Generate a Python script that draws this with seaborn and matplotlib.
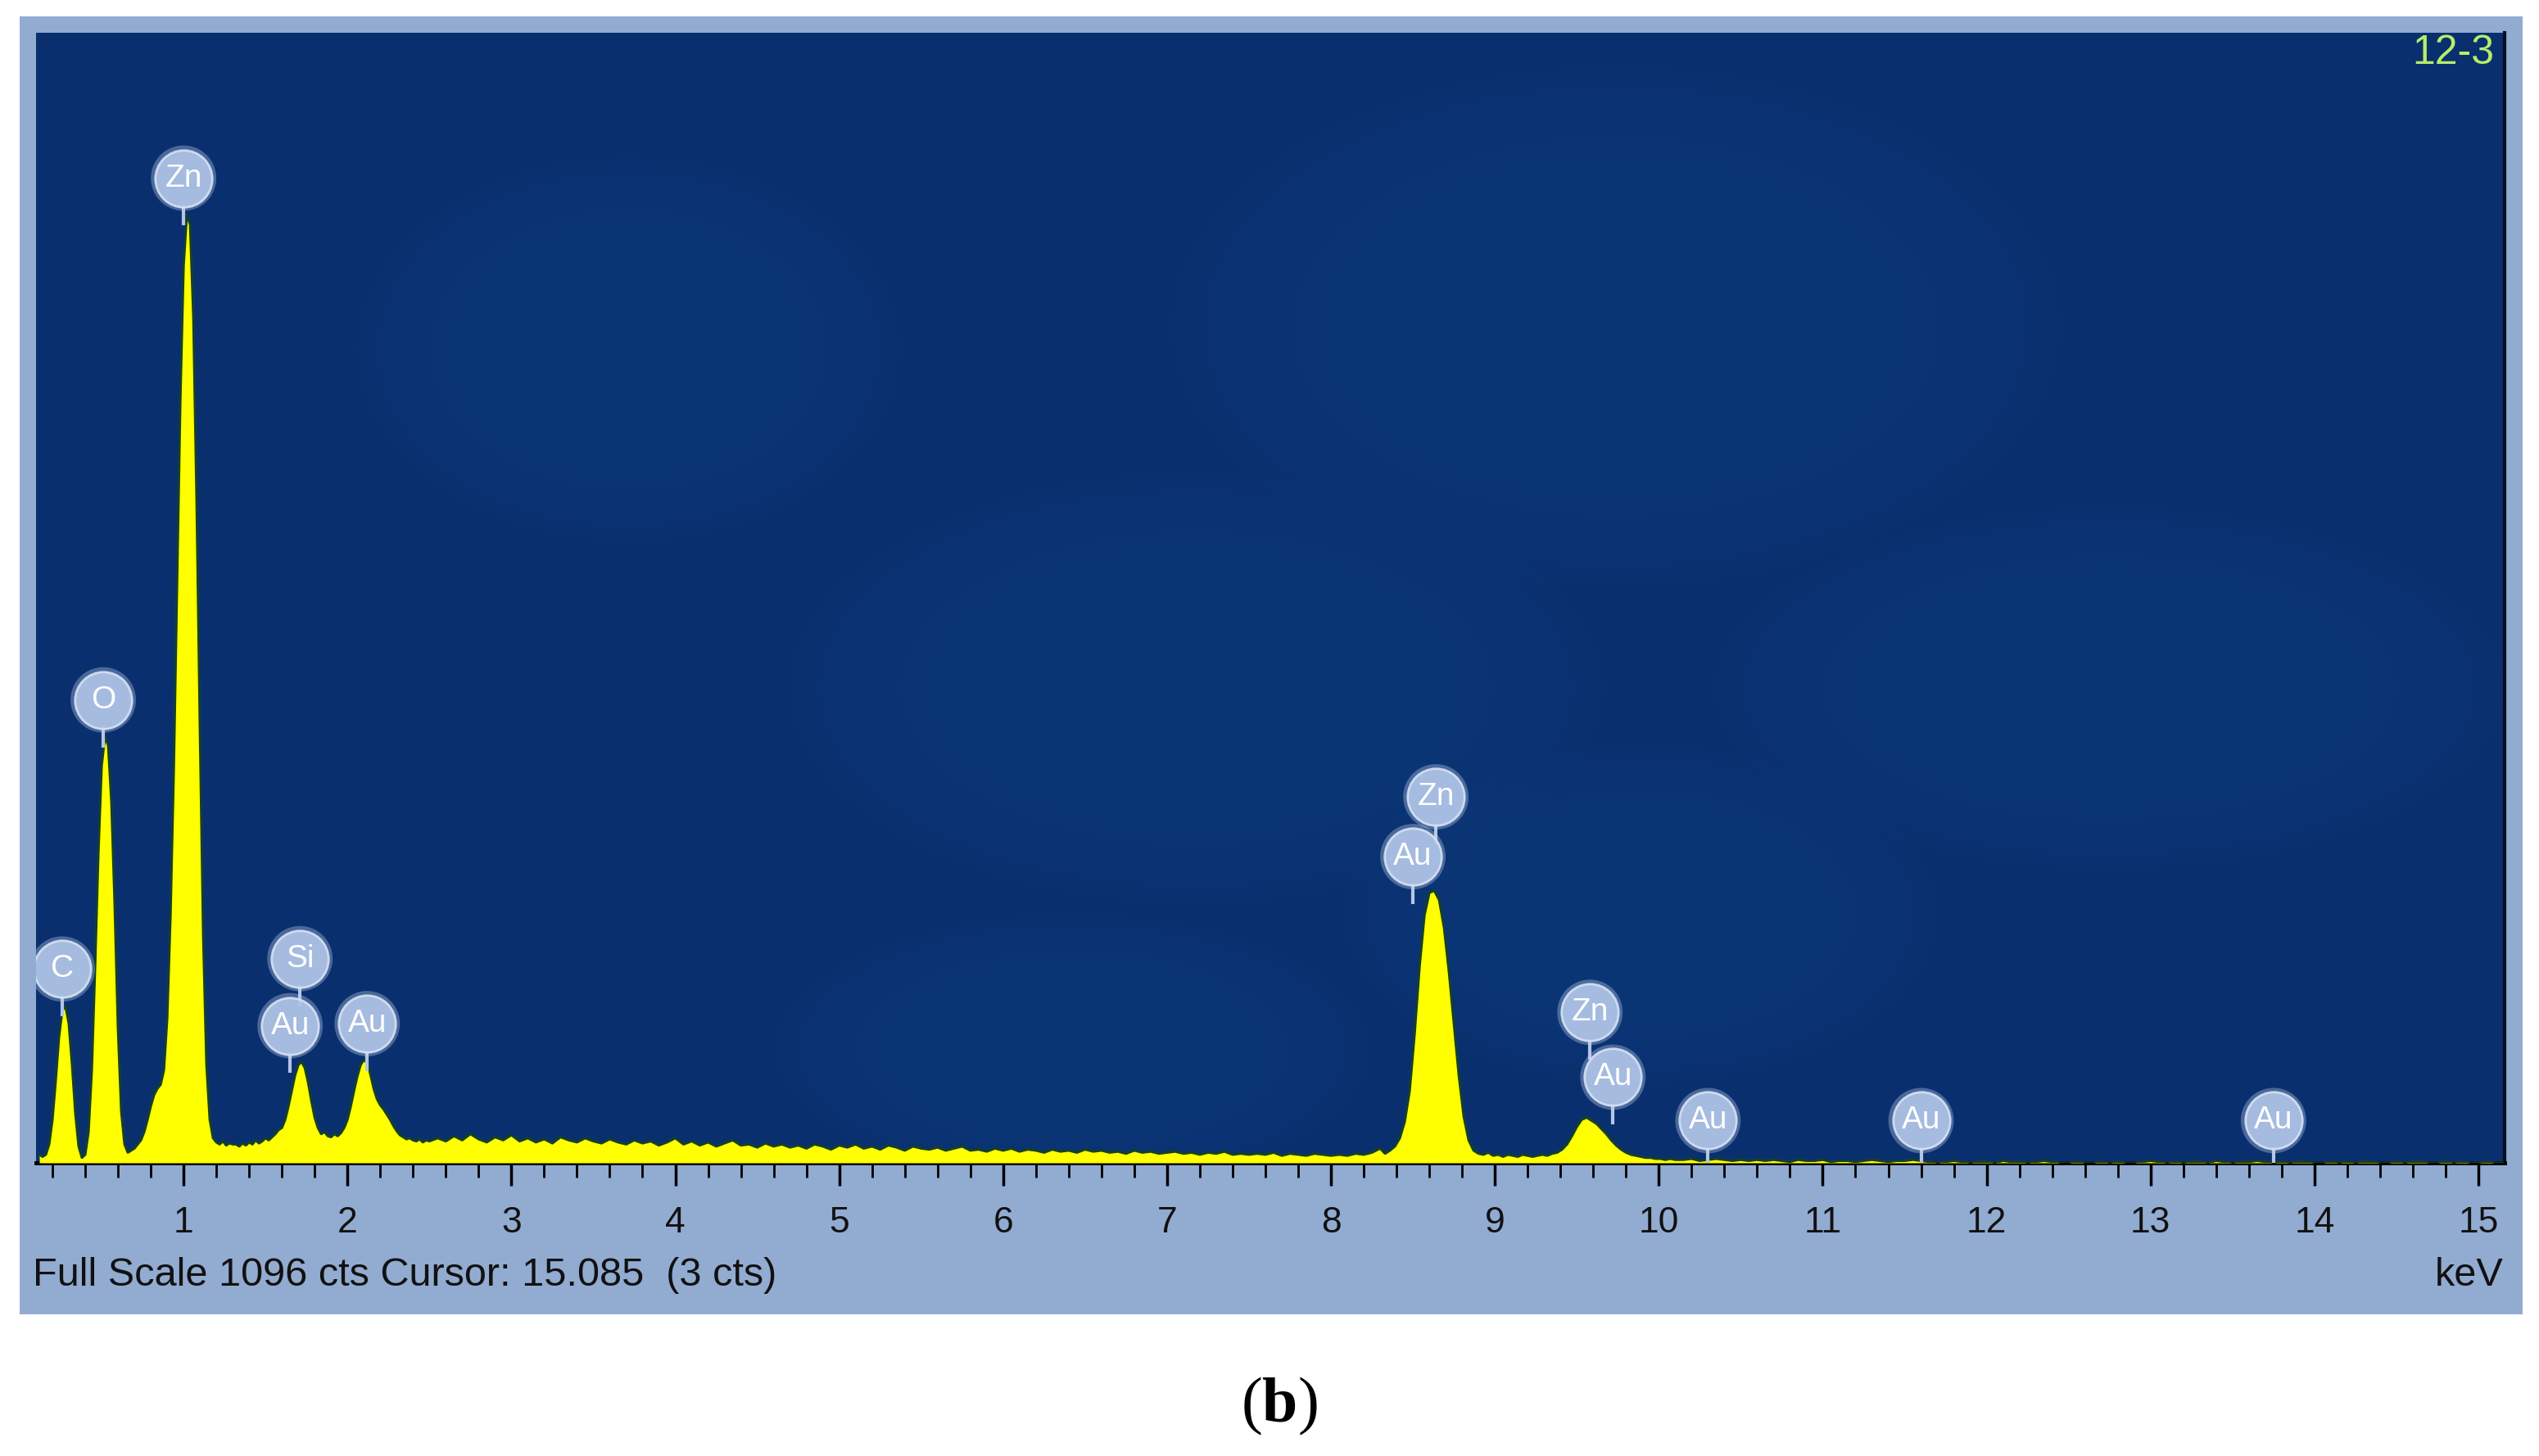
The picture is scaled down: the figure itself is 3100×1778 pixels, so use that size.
import numpy as np
import pandas as pd
import matplotlib
matplotlib.use('Agg')
import matplotlib.pyplot as plt
import seaborn as sns
from matplotlib.patches import Rectangle, Ellipse
from matplotlib.ticker import MultipleLocator

# Спектр ЭДС: отсчёты по участкам (шаг канала свой на каждом участке)
# участок A: 0.12 .. 1.30 кэВ, шаг 0.02 (C, O, Zn L)
counts_a = [8, 6, 8, 18, 42, 80, 122, 148, 152, 135,
            95, 48, 16, 5, 8, 30, 90, 190, 300, 385,
            413, 405, 350, 250, 130, 50, 18, 10, 12, 14,
            18, 22, 30, 42, 55, 66, 72, 76, 90, 140,
            240, 380, 560, 740, 870, 920, 910, 820, 640, 420,
            220, 95, 42, 24, 20, 18, 21, 17, 19, 18]
# участок B1: 1.32 .. 2.50 кэВ, шаг 0.02 (Si, Au M)
counts_b1 = [18, 16, 19, 17, 20, 18, 22, 19, 21, 24,
             22, 25, 28, 32, 34, 42, 55, 70, 85, 95,
             98, 92, 78, 60, 44, 34, 28, 30, 26, 25,
             28, 26, 29, 34, 42, 55, 70, 84, 95, 100,
             97, 86, 72, 62, 56, 52, 47, 42, 36, 31,
             27, 25, 23, 24, 22, 21, 23, 20, 22, 21]
# участок B2: 2.55 .. 8.30 кэВ, шаг 0.05 (фон)
counts_b2 = [24, 21, 26, 22, 28, 23, 20, 25, 22, 27,
             21, 24, 20, 23, 19, 25, 22, 20, 24, 21,
             19, 23, 20, 18, 22, 19, 21, 17, 20, 24,
             18, 21, 17, 20, 16, 19, 22, 17, 18, 15,
             19, 16, 18, 15, 17, 14, 18, 16, 13, 17,
             15, 18, 14, 16, 13, 17, 15, 12, 16, 14,
             13, 15, 12, 14, 16, 12, 13, 11, 14, 12,
             14, 11, 13, 12, 10, 13, 11, 12, 10, 13,
             11, 12, 10, 11, 9, 12, 10, 11, 9, 10,
             11, 9, 10, 8, 10, 9, 11, 8, 9, 8,
             9, 8, 10, 7, 9, 8, 7, 9, 8, 7,
             8, 7, 9, 8, 10, 14]
# участок C: 8.33 .. 10.10 кэВ, шаг 0.03 (Zn K)
counts_c = [9, 12, 16, 24, 40, 70, 125, 190, 240, 262,
            264, 255, 228, 185, 135, 85, 45, 22, 12, 9,
            8, 10, 7, 8, 6, 8, 7, 6, 8, 7,
            6, 7, 8, 7, 9, 10, 13, 18, 26, 35,
            42, 44, 41, 38, 33, 28, 22, 17, 13, 10,
            8, 7, 6, 5, 5, 4, 4, 3, 4, 3]
# участок D: 10.15 .. 15.15 кэВ, шаг 0.05 (хвост)
counts_d = [3, 4, 2, 3, 4, 3, 2, 3, 2, 3,
            2, 3, 2, 1, 3, 2, 2, 3, 1, 2,
            2, 1, 2, 3, 2, 1, 2, 2, 3, 2,
            1, 0, 1, 2, 1, 0, 1, 1, 0, 2,
            1, 1, 0, 1, 2, 1, 0, 0, 1, 0,
            0, 1, 0, 1, 0, 0, 1, 2, 1, 0,
            1, 0, 1, 1, 0, 2, 1, 0, 1, 1,
            2, 1, 0, 1, 0, 1, 1, 0, 0, 1,
            0, 1, 0, 1, 1, 0, 0, 1, 0, 1,
            1, 0, 0, 1, 0, 1, 0, 0, 1, 0,
            0]

segments = [(0.12, 1.30, 0.02, counts_a),
            (1.32, 2.50, 0.02, counts_b1),
            (2.55, 8.30, 0.05, counts_b2),
            (8.33, 10.10, 0.03, counts_c),
            (10.15, 15.15, 0.05, counts_d)]

# Метки линий элементов
line_names = ['C', 'O', 'Zn', 'Si', 'Au', 'Au', 'Zn', 'Au', 'Zn', 'Au', 'Au', 'Au', 'Au']
line_kev = [0.26, 0.51, 1.00, 1.71, 1.65, 2.12, 8.64, 8.50, 9.58, 9.72, 10.30, 11.60, 13.75]
label_cts = [188, 449, 955, 198, 133, 135, 355, 297, 146, 83, 41, 41, 41]

full_scale = 1096

# Сборка спектра
energy, counts = [], []
for start, stop, step, vals in segments:
    e = np.round(np.arange(start, stop + step / 2, step), 3)
    assert len(e) == len(vals), (start, len(e), len(vals))
    energy.extend(e)
    counts.extend(vals)
spec = pd.DataFrame({'keV': energy, 'cts': counts})
labels = pd.DataFrame({'name': line_names, 'keV': line_kev, 'cts': label_cts})

sns.set_theme(style='white')
plt.rcParams['font.family'] = ['Liberation Sans', 'DejaVu Sans']
plt.rcParams['mathtext.fontset'] = 'custom'
plt.rcParams['mathtext.rm'] = 'Liberation Serif'
plt.rcParams['mathtext.bf'] = 'Liberation Serif:bold'

W, H = 3100, 1778
fig = plt.figure(figsize=(W / 100, H / 100), dpi=100)
fig.patch.set_facecolor('white')

# светло-голубая рамка окна программы
fig.patches.append(Rectangle((24 / W, 1 - 1605 / H), (3080 - 24) / W, (1605 - 20) / H,
                             transform=fig.transFigure, facecolor='#92abd1',
                             edgecolor='none', zorder=-10))

ax = fig.add_axes([44 / W, 1 - 1420 / H, (3058 - 44) / W, (1420 - 40) / H])
ax.set_zorder(5)
ax.set_facecolor('#0a2f6f')

# слабые размытые пятна фона (изображение СЭМ под спектром)
for cx, cy, w, h in [(0.64, 0.74, 0.36, 0.46), (0.47, 0.42, 0.33, 0.38),
                     (0.84, 0.42, 0.32, 0.32), (0.24, 0.72, 0.22, 0.34),
                     (0.42, 0.10, 0.24, 0.24), (0.65, 0.22, 0.24, 0.30)]:
    for k in range(6):
        f = 1.0 - 0.07 * k
        ax.add_patch(Ellipse((cx, cy), w * f, h * f, transform=ax.transAxes,
                             facecolor='#3d68a8', edgecolor='none', alpha=0.02, zorder=1))

ax.fill_between(spec['keV'], 0, spec['cts'], color='#ffff00', lw=0, zorder=3)
sns.lineplot(data=spec, x='keV', y='cts', ax=ax, color='#15402a', lw=2.2,
             estimator=None, sort=False, zorder=4)

# подписи пиков
for _, r in labels.iterrows():
    ax.vlines(r['keV'], r['cts'] - 46, r['cts'] - 26, color='#b4c6e6', lw=3, zorder=5)
sns.scatterplot(data=labels, x='keV', y='cts', ax=ax, s=3300, color='#c3d3ee',
                alpha=0.35, edgecolor='none', legend=False, zorder=5)
sns.scatterplot(data=labels, x='keV', y='cts', ax=ax, s=2500, color='#aec3e6',
                alpha=0.92, edgecolor='#d5e1f4', linewidth=2, legend=False, zorder=6)
for _, r in labels.iterrows():
    ax.text(r['keV'], r['cts'], r['name'], ha='center', va='center', color='white',
            fontsize=28, zorder=7)

ax.set_xlim(0.10, 15.16)
ax.set_ylim(0, full_scale)
ax.set_xlabel('')
ax.set_ylabel('')
ax.set_yticks([])
ax.xaxis.set_major_locator(MultipleLocator(1))
ax.xaxis.set_minor_locator(MultipleLocator(0.2))
ax.tick_params(axis='x', which='major', bottom=True, length=20, width=2.5, color='black',
               direction='out', labelsize=32, pad=18, labelcolor='#111111')
ax.tick_params(axis='x', which='minor', bottom=True, length=13, width=2, color='black',
               direction='out')
for side in ['top', 'left']:
    ax.spines[side].set_visible(False)
ax.spines['bottom'].set_color('black')
ax.spines['bottom'].set_linewidth(3.5)
ax.spines['right'].set_color('#050f20')
ax.spines['right'].set_linewidth(3)

fig.text(3045 / W, 1 - 65 / H, '12-3', ha='right', va='center', color='#b5ee6a',
         fontsize=36, zorder=10)
fig.text(40 / W, 1 - 1558 / H, f'Full Scale {full_scale} cts Cursor: 15.085  (3 cts)',
         ha='left', va='center', fontsize=35, color='#111111')
fig.text(3056 / W, 1 - 1558 / H, 'keV', ha='right', va='center', fontsize=35, color='#111111')
fig.text(1562 / W, 1 - 1717 / H, r'($\mathbf{b}$)', ha='center', va='center',
         fontsize=56, family='Liberation Serif', color='black')

fig.savefig('out.png', dpi=100)
